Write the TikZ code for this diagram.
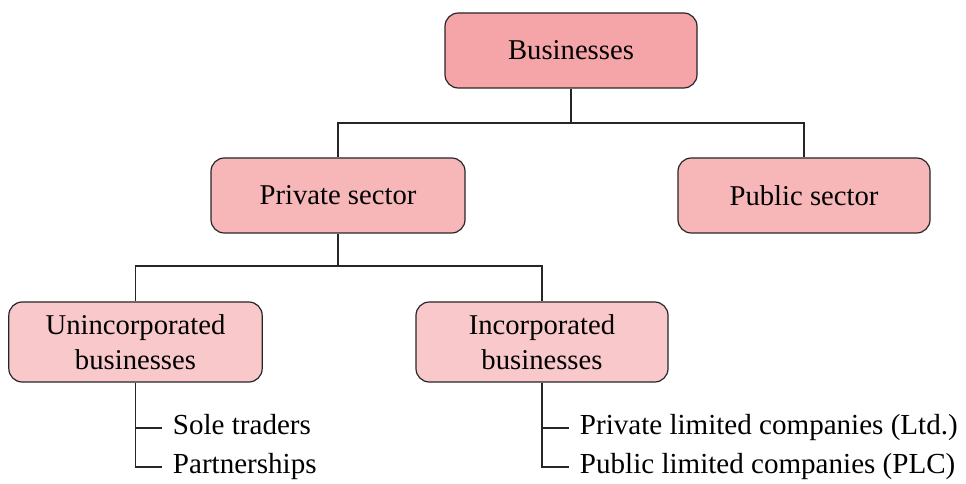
\documentclass[tikz,border=0pt]{standalone}
\usepackage{fontspec}
\setmainfont{Liberation Serif}
\definecolor{lvA}{HTML}{F5A5A8}
\definecolor{lvB}{HTML}{F7B7B8}
\definecolor{lvC}{HTML}{F9C8CA}
\begin{document}
\begin{tikzpicture}[x=0.75pt,y=-0.75pt,
  box/.style={draw=black!85, line width=0.9pt, rounded corners=10pt, align=center,
    font=\fontsize{21.5}{26}\selectfont, inner sep=0pt},
  leaf/.style={anchor=west, inner xsep=8pt, inner ysep=0pt, text height=14.5pt, text depth=4.5pt,
    font=\fontsize{21.8}{26}\selectfont},
  conn/.style={draw=black!85, line width=0.8pt}]
\useasboundingbox (0,0) rectangle (966,484);
\node[box, fill=lvA, minimum width=189pt, minimum height=56.25pt] (biz) at (571,50.5) {Businesses};
\node[box, fill=lvB, minimum width=190.5pt, minimum height=56.25pt] (priv) at (338,195.5) {Private sector};
\node[box, fill=lvB, minimum width=189pt, minimum height=56.25pt] (pub) at (804,195.5) {Public sector};
\node[box, fill=lvC, minimum width=190pt, minimum height=60pt] (uninc) at (135.5,342) {Unincorporated\\businesses};
\node[box, fill=lvC, minimum width=189pt, minimum height=60pt] (inc) at (542,342) {Incorporated\\businesses};
\node[leaf] (sole) at (162,428) {Sole traders};
\node[leaf] (part) at (162,467) {Partnerships};
\node[leaf] (ltd) at (569,428) {Private limited companies (Ltd.)};
\node[leaf] (plc) at (569,467) {Public limited companies (PLC)};
\coordinate (j1) at (571,123);
\coordinate (j2) at (338,266);
\draw[conn] (biz.south) -- (biz.south |- j1);
\draw[conn] (priv.north) |- (j1) -| (pub.north);
\draw[conn] (priv.south) -- (priv.south |- j2);
\draw[conn] (uninc.north) |- (j2) -| (inc.north);
\draw[conn] (uninc.south) |- (sole.west);
\draw[conn] (uninc.south) |- (part.west);
\draw[conn] (inc.south) |- (ltd.west);
\draw[conn] (inc.south) |- (plc.west);
\end{tikzpicture}
\end{document}
